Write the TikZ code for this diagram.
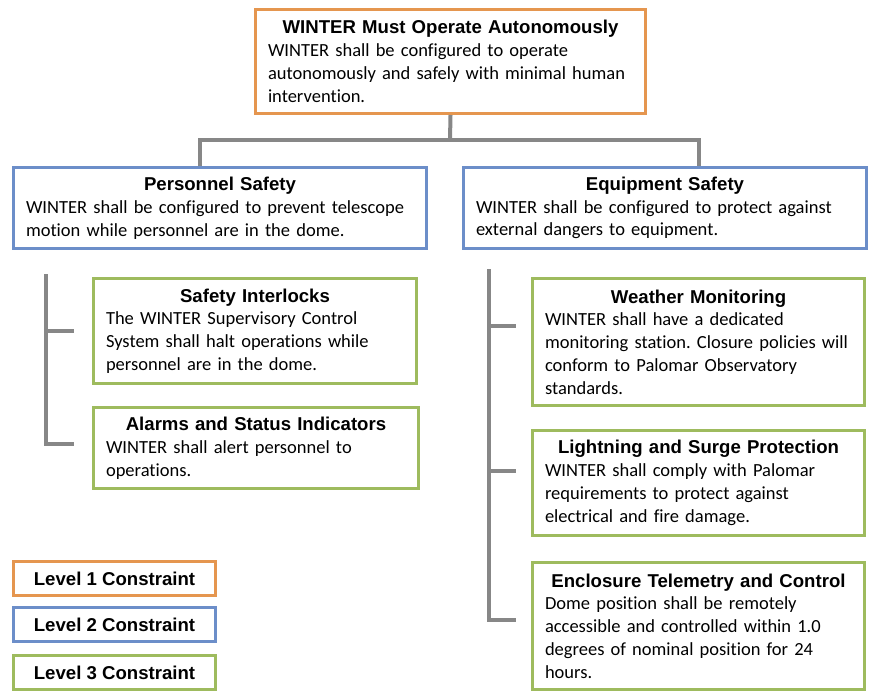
\documentclass[tikz,border=0pt]{standalone}
\usepackage{fontspec}
\setmainfont{Carlito}[Ligatures=NoCommon]
\newfontfamily\headfont{Liberation Sans}
\frenchspacing
\definecolor{lvlone}{HTML}{E5964F}
\definecolor{lvltwo}{HTML}{6C8EC9}
\definecolor{lvlthree}{HTML}{9EBB5E}
\definecolor{bargray}{HTML}{878787}
\newcommand{\boxtitle}[1]{\makebox[\linewidth][c]{\headfont\bfseries\fontsize{18.6}{22}\selectfont #1}}

\tikzset{
  box/.style={draw,line width=3pt,fill=white,anchor=north west,inner xsep=12.5pt,inner ysep=3pt,
    align=left,font=\fontsize{18.5}{22.8}\selectfont},
  lvlA/.style={box,draw=lvlone},
  lvlB/.style={box,draw=lvltwo},
  lvlC/.style={box,draw=lvlthree},
  legend/.style={draw,line width=3pt,anchor=north west,minimum width=202pt,minimum height=34pt,
    font=\headfont\bfseries\fontsize{18.6}{22}\selectfont},
  conn/.style={draw=bargray,line width=4pt}
}

\begin{document}
\begin{tikzpicture}[x=1pt,y=-1pt]
\useasboundingbox (0,0) rectangle (870,693);

\node[lvlA,text width=365pt,minimum height=104pt] (auto) at (254,8)
  {\boxtitle{WINTER Must Operate Autonomously}\\WINTER shall be configured to operate\\
   autonomously and safely with minimal human\\intervention.};

\node[lvlB,text width=388pt,minimum height=81pt] (pers) at (12,166)
  {\boxtitle{Personnel Safety}\\WINTER shall be configured to prevent telescope\\
   motion while personnel are in the dome.};
\node[lvlB,text width=378pt,minimum height=81pt] (equip) at (462,166)
  {\boxtitle{Equipment Safety}\\WINTER shall be configured to protect against\\
   external dangers to equipment.};

\node[lvlC,text width=298pt,minimum height=105pt] (lock) at (92,277)
  {\boxtitle{Safety Interlocks}\\The WINTER Supervisory Control\\
   System shall halt operations while\\personnel are in the dome.};
\node[lvlC,text width=300pt,minimum height=81pt] (alarm) at (92,406)
  {\boxtitle{Alarms and Status Indicators}\\WINTER shall alert personnel to\\operations.};

\node[lvlC,text width=307pt,minimum height=127pt] (weather) at (531,277)
  {\boxtitle{Weather Monitoring}\\WINTER shall have a dedicated\\
   monitoring station. Closure policies will\\conform to Palomar Observatory\\standards.};
\node[lvlC,text width=307pt,minimum height=105pt] (surge) at (531,429)
  {\boxtitle{Lightning and Surge Protection}\\WINTER shall comply with Palomar\\
   requirements to protect against\\electrical and fire damage.};
\node[lvlC,text width=307pt,minimum height=127pt] (dome) at (531,561)
  {\boxtitle{Enclosure Telemetry and Control}\\Dome position shall be remotely\\
   accessible and controlled within 1.0\\degrees of nominal position for 24\\hours.};

% legend
\node[legend,draw=lvlone] (keyA) at (12,560) {Level 1 Constraint};
\node[legend,draw=lvltwo] (keyB) at (12,606) {Level 2 Constraint};
\node[legend,draw=lvlthree] (keyC) at (12,654) {Level 3 Constraint};

% tree lines
\coordinate (bus) at (450,140);
\draw[conn] (auto.south) -- (bus);
\draw[conn] ([xshift=-20pt]pers.north) |- (bus) -| ([xshift=34pt]equip.north);

\coordinate (lbar) at (46,274);
\coordinate (lockin) at ([xshift=-18pt]lock.west);
\coordinate (alarmin) at ([xshift=-18pt,yshift=4pt]alarm.west);
\draw[conn] (lbar) |- (alarmin);
\draw[conn] (lbar |- lockin) -- (lockin);

\coordinate (rbar) at (489,269);
\coordinate (weatherin) at ([xshift=-15pt,yshift=16pt]weather.west);
\coordinate (surgein) at ([xshift=-15pt,yshift=12pt]surge.west);
\coordinate (domein) at ([xshift=-15pt,yshift=6pt]dome.west);
\draw[conn] (rbar) |- (domein);
\draw[conn] (rbar |- weatherin) -- (weatherin);
\draw[conn] (rbar |- surgein) -- (surgein);
\end{tikzpicture}
\end{document}
